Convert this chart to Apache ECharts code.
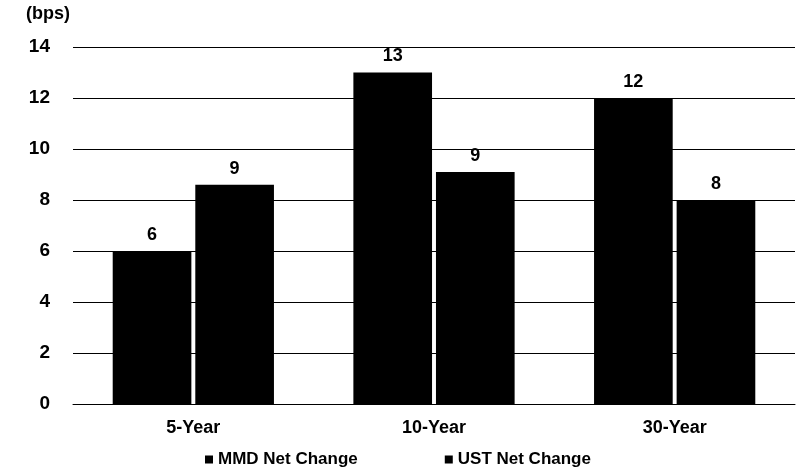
<!DOCTYPE html>
<html><head><meta charset="utf-8">
<script src="https://cdn.jsdelivr.net/npm/echarts@6/dist/echarts.min.js"></script>
<style>html,body{margin:0;padding:0;background:#fff}#c{width:801px;height:471px}</style>
</head><body><div id="c"></div>
<script>
const categories = ['5-Year', '10-Year', '30-Year'];
const mmdValues = [6.0, 13.0, 12.0];
const ustValues = [8.6, 9.1, 8.0];
const yTicks = [0, 2, 4, 6, 8, 10, 12, 14];
const seriesNames = ['MMD Net Change', 'UST Net Change'];

const font = 'Liberation Sans, Arial, sans-serif';
const chart = echarts.init(document.getElementById('c'));
const lbl = {show: true, position: 'top', distance: 7, color: '#000', fontFamily: font, fontSize: 18, fontWeight: 'bold', formatter: p => Math.round(p.value)};
chart.setOption({
  animation: false,
  grid: {left: 73, right: 6, top: 47, bottom: 67},
  legend: {
    data: seriesNames, top: 446, left: 200, itemWidth: 8, itemHeight: 8, itemGap: 87,
    icon: 'rect', textStyle: {color: '#000', fontFamily: font, fontSize: 17, fontWeight: 'bold'}
  },
  graphic: [{type: 'text', left: 26, top: 5, style: {text: '(bps)', fill: '#000', font: 'bold 18px ' + font}}],
  xAxis: {
    type: 'category', data: categories,
    axisLine: {lineStyle: {color: '#000', width: 1}}, axisTick: {show: false},
    axisLabel: {color: '#000', fontFamily: font, fontSize: 18, fontWeight: 'bold', margin: 15}
  },
  yAxis: {
    type: 'value', min: 0, max: 14, interval: 2,
    axisLine: {show: false}, axisTick: {show: false},
    splitLine: {lineStyle: {color: '#000', width: 1}},
    axisLabel: {color: '#000', fontFamily: font, fontSize: 19, fontWeight: 'bold', margin: 23,
      formatter: v => yTicks.includes(v) ? String(v) : ''}
  },
  series: [
    {name: seriesNames[0], type: 'bar', data: mmdValues, itemStyle: {color: '#000'}, barGap: '5%', barCategoryGap: '33%', label: lbl},
    {name: seriesNames[1], type: 'bar', data: ustValues, itemStyle: {color: '#000'}, label: lbl}
  ]
});
</script></body></html>
